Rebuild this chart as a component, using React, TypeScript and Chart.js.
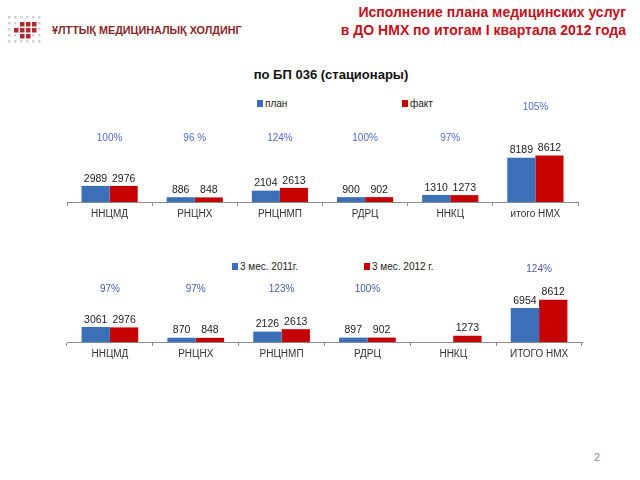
import React, { useEffect, useRef } from "react";
import { Chart, registerables } from "chart.js";

Chart.register(...registerables);

const FONT = "'Liberation Sans', Arial, sans-serif";

const topCategories = ["ННЦМД", "РНЦНХ", "РНЦНМП", "РДРЦ", "ННКЦ", "итого НМХ"];
const topSeriesNames = ["план", "факт"];
const topPlan = [2989, 886, 2104, 900, 1310, 8189];
const topFact = [2976, 848, 2613, 902, 1273, 8612];
const topPct = ["100%", "96 %", "124%", "100%", "97%", "105%"];

const bottomCategories = ["ННЦМД", "РНЦНХ", "РНЦНМП", "РДРЦ", "ННКЦ", "ИТОГО НМХ"];
const bottomSeriesNames = ["3 мес. 2011г.", "3 мес. 2012 г."];
const bottom2011: (number | null)[] = [3061, 870, 2126, 897, null, 6954];
const bottom2012 = [2976, 848, 2613, 902, 1273, 8612];
const bottomPct = ["97%", "97%", "123%", "100%", "", "124%"];

const BLUE = "#3b6fb8";
const RED = "#c40000";

type Cfg = {
  labels: string[];
  names: string[];
  a: (number | null)[];
  b: (number | null)[];
  pct: string[];
  pctColor: string;
  padding: { left: number; right: number; top: number; bottom: number };
  offArea: number;
  offBar: number;
};

function makeChart(canvas: HTMLCanvasElement, cfg: Cfg) {
  const labelPlugin = {
    id: "vals",
    afterDatasetsDraw(chart: any) {
      const ctx = chart.ctx;
      ctx.save();
      ctx.font = `10.5px ${FONT}`;
      ctx.fillStyle = "#222";
      ctx.textAlign = "center";
      ctx.textBaseline = "bottom";
      const tops: number[] = cfg.labels.map(() => Infinity);
      chart.data.datasets.forEach((ds: any, di: number) => {
        const meta = chart.getDatasetMeta(di);
        meta.data.forEach((bar: any, i: number) => {
          const v = ds.data[i];
          if (v == null || !Number.isFinite(bar.y)) return;
          ctx.fillText(String(v), bar.x, bar.y - 2);
          tops[i] = Math.min(tops[i], bar.y);
        });
      });
      const xs = chart.scales.x;
      const area = chart.chartArea;
      ctx.font = `10px ${FONT}`;
      ctx.fillStyle = cfg.pctColor;
      ctx.textBaseline = "middle";
      cfg.pct.forEach((p, i) => {
        if (!p) return;
        const x = xs.getPixelForValue(i);
        const y = Math.min(area.top - cfg.offArea, tops[i] - cfg.offBar);
        ctx.fillText(p, x, y);
      });
      ctx.restore();
    },
  };
  return new Chart(canvas, {
    type: "bar",
    data: {
      labels: cfg.labels,
      datasets: [
        { label: cfg.names[0], data: cfg.a, backgroundColor: BLUE, borderWidth: 0 },
        { label: cfg.names[1], data: cfg.b, backgroundColor: RED, borderWidth: 0 },
      ],
    },
    options: {
      animation: false,
      responsive: false,
      maintainAspectRatio: false,
      layout: { padding: cfg.padding },
      datasets: { bar: { categoryPercentage: 0.66, barPercentage: 1 } },
      plugins: { legend: { display: false }, tooltip: { enabled: false } },
      scales: {
        x: {
          offset: true,
          grid: { offset: true, drawOnChartArea: false, drawTicks: true, tickLength: 4, color: "#8a8a8a" },
          border: { display: true, color: "#8a8a8a" },
          ticks: { color: "#333", font: { size: 10, family: FONT }, padding: 2, maxRotation: 0, autoSkip: false },
        },
        y: { display: false, min: 0, max: 10000 },
      },
    },
    plugins: [labelPlugin],
  } as any);
}

function Legend({ items, xs, y }: { items: string[]; xs: number[]; y: number }) {
  const colors = [BLUE, RED];
  return (
    <>
      {items.map((t, i) => (
        <div key={i} style={{ position: "absolute", left: xs[i], top: y - 7, height: 14, display: "flex", alignItems: "center", font: `10px ${FONT}`, color: "#222", whiteSpace: "nowrap" }}>
          <span style={{ display: "inline-block", width: 6, height: 7, background: colors[i], marginRight: 2 }} />
          {t}
        </div>
      ))}
    </>
  );
}

function Logo() {
  const dots: JSX.Element[] = [];
  const red = new Set(["1-2", "1-3", "1-4", "2-1", "2-2", "2-3", "2-4", "3-2", "3-3"]);
  for (let r = 0; r < 5; r++) {
    for (let c = 0; c < 6; c++) {
      const k = `${r}-${c}`;
      const isRed = red.has(k);
      dots.push(
        <rect key={k} x={8 + c * 6} y={16 + r * 6} width={isRed ? 4.5 : 2.5} height={isRed ? 4.5 : 2.5} fill={isRed ? "#b3282d" : "#d2d2d2"} />
      );
    }
  }
  return (
    <svg width={48} height={50} style={{ position: "absolute", left: 0, top: 0 }}>
      {dots}
    </svg>
  );
}

export default function App() {
  const c1 = useRef<HTMLCanvasElement>(null);
  const c2 = useRef<HTMLCanvasElement>(null);
  useEffect(() => {
    const ch1 = makeChart(c1.current!, {
      labels: topCategories,
      names: topSeriesNames,
      a: topPlan,
      b: topFact,
      pct: topPct,
      pctColor: "#5468cc",
      padding: { left: 67, right: 62, top: 48, bottom: 2 },
      offArea: 10,
      offBar: 48,
    });
    const ch2 = makeChart(c2.current!, {
      labels: bottomCategories,
      names: bottomSeriesNames,
      a: bottom2011,
      b: bottom2012,
      pct: bottomPct,
      pctColor: "#4d5aa8",
      padding: { left: 67, right: 58, top: 53, bottom: 2 },
      offArea: 4,
      offBar: 31,
    });
    return () => {
      ch1.destroy();
      ch2.destroy();
    };
  }, []);
  return (
    <div style={{ position: "absolute", left: 0, top: 0, width: 640, height: 480, background: "#fff", overflow: "hidden" }}>
      <Logo />
      <div style={{ position: "absolute", left: 52, top: 24, font: `bold 10.8px ${FONT}`, color: "#86282b", whiteSpace: "nowrap" }}>
        ҰЛТТЫҚ МЕДИЦИНАЛЫҚ ХОЛДИНГ
      </div>
      <div style={{ position: "absolute", right: 14, top: 3, textAlign: "right", font: `bold 14px ${FONT}`, lineHeight: "18px", color: "#c0101c", whiteSpace: "nowrap" }}>
        Исполнение плана медицинских услуг
        <br />в ДО НМХ по итогам I квартала 2012 года
      </div>
      <div style={{ position: "absolute", left: 0, width: 662, top: 67, textAlign: "center", font: `bold 13px ${FONT}`, color: "#111" }}>
        по БП 036 (стационары)
      </div>
      <Legend items={topSeriesNames} xs={[257, 402]} y={103} />
      <Legend items={bottomSeriesNames} xs={[232, 364]} y={266} />
      <canvas ref={c1} width={640} height={124} style={{ position: "absolute", left: 0, top: 100, width: 640, height: 124 }} />
      <canvas ref={c2} width={640} height={124} style={{ position: "absolute", left: 0, top: 240, width: 640, height: 124 }} />
      <div style={{ position: "absolute", left: 594, top: 451, font: `11px ${FONT}`, color: "#8a8a8a" }}>2</div>
    </div>
  );
}
